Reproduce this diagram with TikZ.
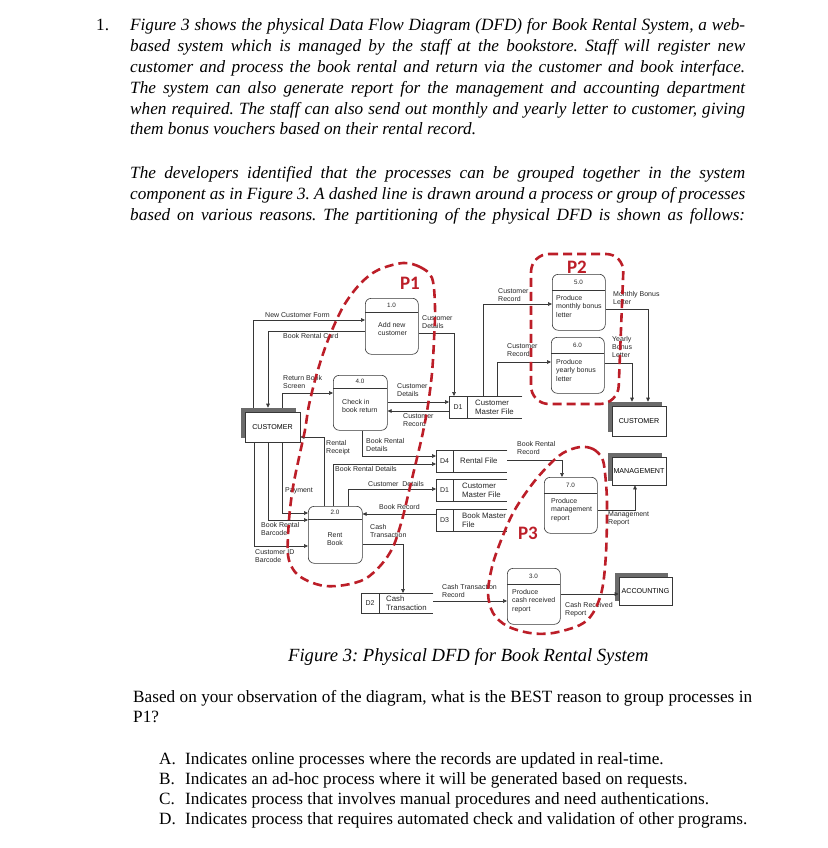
\documentclass[tikz,border=0pt]{standalone}
\usepackage{fontspec}
\setmainfont{Liberation Serif}
\newfontfamily\arialf{Liberation Sans}
\newfontfamily\calf{Carlito}
\usetikzlibrary{shadows,arrows.meta}
\definecolor{pred}{RGB}{188,30,40}
\definecolor{ln}{RGB}{55,55,55}
\newcommand\bodyfont{\fontsize{17.2}{20}\selectfont}
\frenchspacing
\begin{document}
\begin{tikzpicture}[x=1pt,y=-1pt,
  flow/.style={draw=ln, line width=0.6pt, -{Triangle[length=4pt,width=3.6pt]}},
  stline/.style={draw=ln, line width=0.6pt},
  procbox/.style={draw=ln, line width=0.6pt, rounded corners=6pt, inner sep=0pt, anchor=north west},
  ent/.style={draw=ln, fill=white, line width=0.6pt, inner sep=0pt,
    font=\arialf\fontsize{7.1}{8}\selectfont,
    drop shadow={shadow xshift=-4pt, shadow yshift=4pt, fill=black!58, opacity=1}},
  lbl/.style={inner sep=0pt, anchor=north west, align=left, font=\arialf\fontsize{7}{8.3}\selectfont, text=black!85},
  ptxt/.style={inner sep=0pt, anchor=north west, align=left, font=\arialf\fontsize{7}{8.5}\selectfont, text=black!85},
  pnum/.style={inner sep=0pt, font=\arialf\fontsize{6.3}{7}\selectfont, text=black!85},
  stxt/.style={inner sep=0pt, anchor=west, align=left, font=\arialf\fontsize{7.8}{9.3}\selectfont, text=black!85},
  dlab/.style={inner sep=0pt, font=\arialf\fontsize{7}{8}\selectfont, text=black!85},
  pdash/.style={draw=pred, line width=2.6pt, dash pattern=on 9pt off 5pt},
  plab/.style={inner sep=0pt, font=\calf\bfseries\fontsize{19}{20}\selectfont, text=pred},
  body/.style={inner sep=0pt, anchor=base west, font=\bodyfont},
  bodyit/.style={inner sep=0pt, anchor=base west, font=\bodyfont\itshape}
]
\useasboundingbox[fill=white] (0,0) rectangle (827,848);

% ---------------- text above ----------------
\node[body] (num1) at (96,31) {1.};
\node[bodyit] (a1) at (130,31) {\makebox[615pt][s]{Figure 3 shows the physical Data Flow Diagram (DFD) for Book Rental System, a web-}};
\node[bodyit] (a2) at (130,51.8) {\makebox[615pt][s]{based system which is managed by the staff at the bookstore. Staff will register new}};
\node[bodyit] (a3) at (130,72.6) {\makebox[615pt][s]{customer and process the book rental and return via the customer and book interface.}};
\node[bodyit] (a4) at (130,93.4) {\makebox[615pt][s]{The system can also generate report for the management and accounting department}};
\node[bodyit] (a5) at (130,114.2) {\makebox[615pt][s]{when required. The staff can also send out monthly and yearly letter to customer, giving}};
\node[bodyit] (a6) at (130,135) {them bonus vouchers based on their rental record.};
\node[bodyit] (b1) at (130,178) {\makebox[615pt][s]{The developers identified that the processes can be grouped together in the system}};
\node[bodyit] (b2) at (130,199) {\makebox[615pt][s]{component as in Figure 3. A dashed line is drawn around a process or group of processes}};
\node[bodyit] (b3) at (130,220) {\makebox[615pt][s]{based on various reasons. The partitioning of the physical DFD is shown as follows:}};

% ---------------- text below ----------------
\node[inner sep=0pt, anchor=base west, font=\fontsize{18.6}{20}\selectfont\itshape] (cap) at (288,661) {Figure 3: Physical DFD for Book Rental System};
\node[body] (q1) at (133,702) {\makebox[619pt][s]{Based on your observation of the diagram, what is the BEST reason to group processes in}};
\node[body] (q2) at (133,722) {P1?};
\node[body] (oA) at (159,764) {A.};
\node[body] (oAt) at (185,764) {Indicates online processes where the records are updated in real-time.};
\node[body] (oB) at (159,784) {B.};
\node[body] (oBt) at (185,784) {Indicates an ad-hoc process where it will be generated based on requests.};
\node[body] (oC) at (159,804) {C.};
\node[body] (oCt) at (185,804) {Indicates process that involves manual procedures and need authentications.};
\node[body] (oD) at (159,824) {D.};
\node[body] (oDt) at (185,824) {Indicates process that requires automated check and validation of other programs.};

% ---------------- entities ----------------
\node[ent, minimum width=55pt, minimum height=30pt] (cl) at (272.5,427) {CUSTOMER};
\node[ent, minimum width=54pt, minimum height=30pt] (cr) at (639,421) {CUSTOMER};
\node[ent, minimum width=54pt, minimum height=28pt] (mg) at (639,471) {MANAGEMENT};
\node[ent, minimum width=53pt, minimum height=28pt] (ac) at (645.5,591) {ACCOUNTING};

% ---------------- processes ----------------
\node[procbox, minimum width=53pt, minimum height=56pt] (p10) at (365,298) {};
\draw[stline] (365,312) -- (418,312);
\node[pnum] (n10) at (391.5,305) {1.0};
\node[ptxt] (t10) at (378,322) {Add new\\customer};

\node[procbox, minimum width=54pt, minimum height=55pt] (p40) at (333,375) {};
\draw[stline] (333,388) -- (387,388);
\node[pnum] (n40) at (360,381.5) {4.0};
\node[ptxt] (t40) at (342,399) {Check in\\book return};

\node[procbox, minimum width=54pt, minimum height=57pt] (p20) at (308,506) {};
\draw[stline] (308,519) -- (362,519);
\node[pnum] (n20) at (335,512.5) {2.0};
\node[ptxt, anchor=north, align=center] (t20) at (335,532) {Rent\\Book};

\node[procbox, minimum width=53pt, minimum height=56pt] (p50) at (552,274) {};
\draw[stline] (552,290) -- (605,290);
\node[pnum] (n50) at (578.5,282) {5.0};
\node[ptxt] (t50) at (556,295) {Produce\\monthly bonus\\letter};

\node[procbox, minimum width=53pt, minimum height=56pt] (p60) at (551,337) {};
\draw[stline] (551,353) -- (604,353);
\node[pnum] (n60) at (577.5,345) {6.0};
\node[ptxt] (t60) at (556,359) {Produce\\yearly bonus\\letter};

\node[procbox, minimum width=53pt, minimum height=56pt] (p70) at (544,477) {};
\draw[stline] (544,493) -- (597,493);
\node[pnum] (n70) at (570.5,485) {7.0};
\node[ptxt] (t70) at (551,498) {Produce\\management\\report};

\node[procbox, minimum width=53pt, minimum height=56pt] (p30) at (507,568) {};
\draw[stline] (507,584) -- (560,584);
\node[pnum] (n30) at (533.5,576) {3.0};
\node[ptxt] (t30) at (512,589) {Produce\\cash received\\report};

% ---------------- data stores ----------------
\node[inner sep=0pt, minimum width=73pt, minimum height=22pt, anchor=north west] (d1a) at (449,396) {};
\draw[stline] (d1a.north east) -- (d1a.north west) -- (d1a.south west) -- (d1a.south east);
\draw[stline] (467,396) -- (467,418);
\node[dlab] (d1al) at (458,407) {D1};
\node[stxt] (d1at) at (475,407.5) {Customer\\Master File};

\node[inner sep=0pt, minimum width=71pt, minimum height=22pt, anchor=north west] (d4) at (436,450) {};
\draw[stline] (d4.north east) -- (d4.north west) -- (d4.south west) -- (d4.south east);
\draw[stline] (453,450) -- (453,472);
\node[dlab] (d4l) at (444.5,461) {D4};
\node[stxt] (d4t) at (460,460.5) {Rental File};

\node[inner sep=0pt, minimum width=71pt, minimum height=22pt, anchor=north west] (d1b) at (436,479) {};
\draw[stline] (d1b.north east) -- (d1b.north west) -- (d1b.south west) -- (d1b.south east);
\draw[stline] (453,479) -- (453,501);
\node[dlab] (d1bl) at (444.5,490) {D1};
\node[stxt] (d1bt) at (462,490) {Customer\\Master File};

\node[inner sep=0pt, minimum width=71pt, minimum height=22pt, anchor=north west] (d3) at (436,509) {};
\draw[stline] (d3.north east) -- (d3.north west) -- (d3.south west) -- (d3.south east);
\draw[stline] (453,509) -- (453,531);
\node[dlab] (d3l) at (444.5,520) {D3};
\node[stxt] (d3t) at (462,520) {Book Master\\File};

\node[inner sep=0pt, minimum width=72pt, minimum height=20pt, anchor=north west] (d2) at (361,593) {};
\draw[stline] (d2.north east) -- (d2.north west) -- (d2.south west) -- (d2.south east);
\draw[stline] (379,593) -- (379,613);
\node[dlab] (d2l) at (370,603) {D2};
\node[stxt] (d2t) at (386,603.5) {Cash\\Transaction};

% ---------------- waypoints ----------------
\coordinate (c1) at (253,320);
\coordinate (c2) at (268,331);
\coordinate (c3) at (454,333);
\coordinate (c4) at (282,393);
\coordinate (c5) at (0,402);
\coordinate (c6) at (0,411);
\coordinate (c7) at (324,437);
\coordinate (c8) at (362,456);
\coordinate (c9) at (333,464);
\coordinate (c10) at (348,489);
\coordinate (c11) at (0,514);
\coordinate (c12) at (403,544);
\coordinate (c13) at (282,513);
\coordinate (c14) at (268,520);
\coordinate (c15) at (254,546);
\coordinate (c16) at (483,304);
\coordinate (c17) at (497,362);
\coordinate (c18) at (648,309);
\coordinate (c19) at (632,363);
\coordinate (c20) at (562,460);
\coordinate (c21) at (635,510);
\coordinate (c22) at (0,601);
\coordinate (c23) at (0,594);

% ---------------- flows ----------------
\draw[flow, shorten <=4pt] (cl.north -| c1) |- (p10.west |- c1);
\draw[flow, shorten >=4pt] (p10.west |- c2) -| (cl.north -| c2);
\draw[flow] (p10.east |- c3) -| (d1a.north -| c3);
\draw[flow, shorten <=4pt] (cl.north -| c4) |- (p40.west |- c4);
\draw[flow] (p40.east |- c5) -- (d1a.west |- c5);
\draw[flow] (d1a.west |- c6) -- (p40.east |- c6);
\draw[flow] (p20.north -| c7) |- (cl.east |- c7);
\draw[flow] (p40.south -| c8) |- (d4.west |- c8);
\draw[flow] (p20.north -| c9) |- (d4.west |- c9);
\draw[flow] (p20.north -| c10) |- (d1b.west |- c10);
\draw[flow] (d3.west |- c11) -- (p20.east |- c11);
\draw[flow] (p20.east |- c12) -| (d2.north -| c12);
\draw[flow] (cl.south -| c13) |- (p20.west |- c13);
\draw[flow] (cl.south -| c14) |- (p20.west |- c14);
\draw[flow] (cl.south -| c15) |- (p20.west |- c15);
\draw[flow] (d1a.north -| c16) |- (p50.west |- c16);
\draw[flow] (d1a.north -| c17) |- (p60.west |- c17);
\draw[flow, shorten >=4pt] (p50.east |- c18) -| (cr.north -| c18);
\draw[flow, shorten >=4pt] (p60.east |- c19) -| (cr.north -| c19);
\draw[flow] (d4.east |- c20) -| (p70.north -| c20);
\draw[flow] (p70.east |- c21) -| (mg.south -| c21);
\draw[flow] (d2.east |- c22) -- (p30.west |- c22);
\draw[flow] (p30.east |- c23) -- (ac.west |- c23);

% ---------------- flow labels ----------------
\node[lbl] (l1) at (265,312) {New Customer Form};
\node[lbl] (l2) at (283,333) {Book Rental Card};
\node[lbl] (l3) at (422,315) {Customer\\Details};
\node[lbl] (l4) at (283,375) {Return Book\\Screen};
\node[lbl] (l5) at (397,383) {Customer\\Details};
\node[lbl] (l6) at (403,413) {Customer\\Record};
\node[lbl] (l7) at (326,440) {Rental\\Receipt};
\node[lbl] (l8) at (366,438) {Book Rental\\Details};
\node[lbl] (l9) at (335,466) {Book Rental Details};
\node[lbl] (l10) at (368,481) {Customer\ \ Details};
\node[lbl] (l11) at (379,504) {Book Record};
\node[lbl] (l12) at (370,524) {Cash\\Transaction};
\node[lbl] (l13) at (285,487) {Payment};
\node[lbl] (l14) at (261,522) {Book Rental\\Barcode};
\node[lbl] (l15) at (255,549) {Customer ID\\Barcode};
\node[lbl] (l16) at (498,288) {Customer\\Record};
\node[lbl] (l17) at (507,343) {Customer\\Record};
\node[lbl] (l18) at (613,291) {Monthly Bonus\\Letter};
\node[lbl] (l19) at (612,336) {Yearly\\Bonus\\Letter};
\node[lbl] (l20) at (517,441) {Book Rental\\Record};
\node[lbl] (l21) at (608,511) {Management\\Report};
\node[lbl] (l22) at (442,584) {Cash Transaction\\Record};
\node[lbl] (l23) at (565,602) {Cash Received\\Report};

% ---------------- partitions ----------------
\draw[pdash] plot[smooth cycle, tension=0.55] coordinates {
 (403,263) (420,267) (432,278) (435,307) (434,340) (432,373) (428,405) (423,432)
 (417,458) (410,487) (402,520) (393,547) (381,565) (365,579) (345,585) (325,586)
 (308,581) (295,572) (288,555) (289,520) (293,487) (300,453) (305,430) (309,405)
 (317,373) (328,340) (343,307) (360,284) (378,270)};
\draw[pdash, rounded corners=18pt] (531,254) -- (624,254) -- (618,404) -- (531,404) -- cycle;
\draw[pdash] plot[smooth cycle, tension=0.55] coordinates {
 (580,447) (593,449) (602,458) (605,473) (607,503) (606,553) (602,590) (593,613)
 (580,625) (553,633) (530,633) (507,626) (493,613) (488,593) (492,567) (500,543)
 (513,513) (530,487) (547,467) (563,453)};
\node[plab] (P1) at (410,283) {P1};
\node[plab] (P2) at (577,267) {P2};
\node[plab] (P3) at (528,533) {P3};
\end{tikzpicture}
\end{document}
